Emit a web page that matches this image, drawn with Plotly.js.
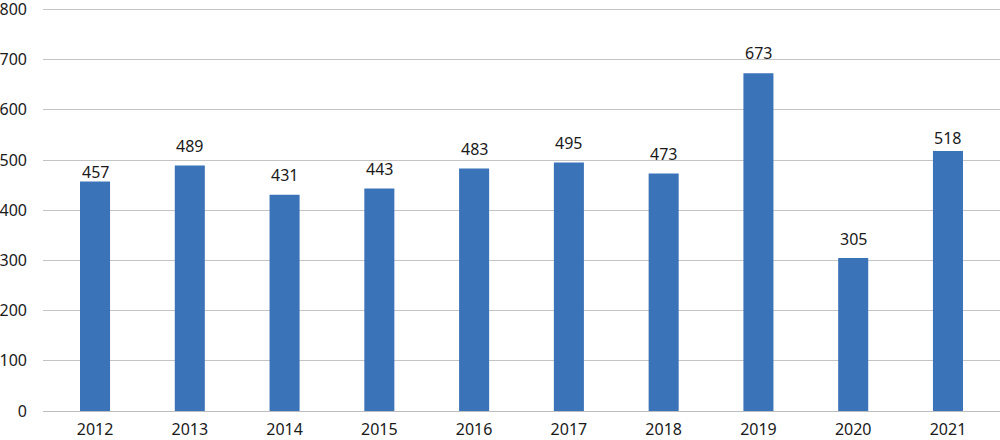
<!DOCTYPE html>
<html>
<head>
<meta charset="utf-8">
<script src="https://cdn.plot.ly/plotly-3.0.1.min.js"></script>
<style>html,body{margin:0;padding:0;background:#fff;}#chart{width:1000px;height:440px;}</style>
</head>
<body>
<div id="chart"></div>
<script>
const years = ["2012","2013","2014","2015","2016","2017","2018","2019","2020","2021"];
const values = [457, 489, 431, 443, 483, 495, 473, 673, 305, 518];
const yTicks = [0, 100, 200, 300, 400, 500, 600, 700, 800];

// label offset above bar top (px), styling only
const labelShift = [10, 20, 20, 20, 20, 20, 20, 20, 19, 13];

const fontFam = "Noto Sans, Open Sans, sans-serif";

const trace = {
  type: 'bar',
  x: years,
  y: values,
  marker: {color: '#3b73b9'},
  hoverinfo: 'x+y'
};

const annotations = years.map((yr, i) => ({
  x: i, y: values[i], xref: 'x', yref: 'y',
  text: String(values[i]), showarrow: false,
  yanchor: 'middle', xanchor: 'center', yshift: labelShift[i],
  font: {family: fontFam, size: 16, color: '#1a1a1a'}
}));

const layout = {
  width: 1000, height: 440,
  margin: {l: 43, r: 0, t: 5, b: 29, pad: 0},
  paper_bgcolor: '#ffffff', plot_bgcolor: '#ffffff',
  showlegend: false,
  bargap: 0.683,
  font: {family: fontFam, size: 15, color: '#1a1a1a'},
  xaxis: {
    type: 'category',
    range: [-0.549, 9.549],
    showgrid: false, zeroline: false, showline: false,
    ticks: '', ticklabelstandoff: 7,
    tickfont: {family: fontFam, size: 16, color: '#1a1a1a'},
    fixedrange: true
  },
  yaxis: {
    range: [0, 808.8],
    tickvals: yTicks,
    ticktext: yTicks.map(String),
    ticklabeloverflow: 'allow',
    showgrid: true, gridcolor: '#c4c4c4', gridwidth: 1,
    zeroline: true, zerolinecolor: '#bdbdbd', zerolinewidth: 1,
    showline: false, ticks: '',
    ticklabelstandoff: 15,
    tickfont: {family: fontFam, size: 16, color: '#1a1a1a'},
    fixedrange: true
  },
  annotations: annotations
};

Plotly.newPlot('chart', [trace], layout, {displayModeBar: false, staticPlot: true});
</script>
</body>
</html>
